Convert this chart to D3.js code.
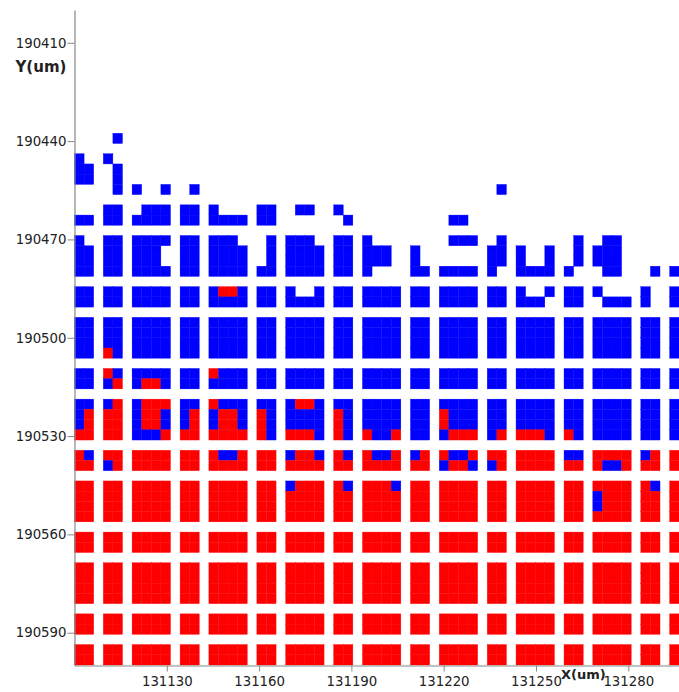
<!DOCTYPE html>
<html>
<head>
<meta charset="utf-8">
<script src="https://cdn.jsdelivr.net/npm/d3@7"></script>
<style>
html,body{margin:0;padding:0;background:#fff;overflow:hidden}
svg{display:block}
text{font-family:"DejaVu Sans",sans-serif;fill:#222}
</style>
</head>
<body>
<svg id="chart" width="679" height="692"></svg>
<script>
const xTicks = [131130,131160,131190,131220,131250,131280];
const yTicks = [190410,190440,190470,190500,190530,190560,190590];
const sitePitch = 3.12;
// left edge (um) of every site column; a space in a row string marks an unused column
const columnX = [131100.00,131103.12,131106.24,131109.36,131112.48,131115.60,131118.72,131121.84,131124.96,131128.08,
131131.20,131134.32,131137.44,131140.56,131143.68,131146.80,131149.92,131153.04,131156.16,131159.28,
131162.40,131165.52,131168.64,131171.76,131174.88,131178.00,131181.12,131184.24,131187.36,131190.48,
131193.60,131196.72,131199.84,131202.96,131206.08,131209.20,131212.32,131215.44,131218.56,131221.68,
131224.80,131227.92,131231.04,131234.16,131237.28,131240.40,131243.52,131246.64,131249.76,131252.88,
131256.00,131259.12,131262.24,131265.36,131268.48,131271.60,131274.72,131277.84,131280.96,131284.08,
131287.20,131290.32,131293.44];
// top edge (um) of every populated row
const rowY = [190437.76,190444.00,190447.12,190450.24,190453.36,190459.60,190462.72,190468.96,190472.08,190475.20,
190478.32,190484.56,190487.68,190493.92,190497.04,190500.16,190503.28,190509.52,190512.64,190518.88,
190522.00,190525.12,190528.24,190534.48,190537.60,190543.84,190546.96,190550.08,190553.20,190559.44,
190562.56,190568.80,190571.92,190575.04,190578.16,190584.40,190587.52,190593.76,190596.88];
// b = blue, r = red, . = no cell
const rowCells = [
".. .b .... .. .... .. .... .. .... .. .... .. .... .. .... .. .",
"b. b. .... .. .... .. .... .. .... .. .... .. .... .. .... .. .",
"bb .b .... .. .... .. .... .. .... .. .... .. .... .. .... .. .",
"bb .b .... .. .... .. .... .. .... .. .... .. .... .. .... .. .",
".. .b b..b .b .... .. .... .. .... .. .... .b .... .. .... .. .",
".. bb .bbb bb b... bb .bb. b. .... .. .... .. .... .. .... .. .",
"bb bb bbbb bb bbbb bb .... .b .... .. .bb. .. .... .. .... .. .",
"b. bb bbbb bb bbb. .b bbb. bb b... .. .bbb .b .... .b .bb. .. .",
"bb bb bbb. bb bbbb .b bbbb bb bbb. b. .... bb b..b .b bbb. .. .",
"bb bb bbb. bb bbbb .b bbbb bb bbb. b. .... bb b..b .b bbb. .. .",
"bb bb bbbb bb bbbb bb bbbb bb b... bb bbbb b. bbbb b. .bb. .b b",
"bb bb bbbb bb brrb bb b..b bb bbbb bb bbbb bb b..b bb b... b. b",
"bb bb bbbb bb bbbb bb bbbb bb bbbb bb bbbb bb bbb. bb .bbb b. b",
"bb bb bbbb bb bbbb bb bbbb bb bbbb bb bbbb bb bbbb bb bbbb bb b",
"bb bb bbbb bb bbbb bb bbbb bb bbbb bb bbbb bb bbbb bb bbbb bb b",
"bb bb bbbb bb bbbb bb bbbb bb bbbb bb bbbb bb bbbb bb bbbb bb b",
"bb rb bbbb bb bbbb bb bbbb bb bbbb bb bbbb bb bbbb bb bbbb bb b",
"bb rb bbbb bb rbbb bb bbbb bb bbbb bb bbbb bb bbbb bb bbbb bb b",
"bb br brrb bb bbbb bb bbbb bb bbbb bb bbbb bb bbbb bb bbbb bb b",
"bb br brrr bb rbbb bb brrb bb bbbb bb bbbb bb bbbb bb bbbb bb b",
"br rr brrb br brrb rb bbbb rb bbbb bb rbbb bb bbbb bb bbbb bb b",
"br rr brrb br brrb rb bbbb rb bbbb bb rbbb bb bbbb bb bbbb bb b",
"rr rr bbbr rr rrrr rb rrrb rb rbbr bb brrr br rrrb rb bbbb bb b",
"rb rr rrrr rr rbbr rr brrb rb rbbr br rbbr rr rrrr bb rrrr br r",
"rr br rrrr rr rrrr rr rrrr rr rrrr rr brrb br rrrr rr rbbr rr r",
"rr rr rrrr rr rrrr rr brrr rb rrrb rr rrrr rr rrrr rr rrrr rb r",
"rr rr rrrr rr rrrr rr rrrr rr rrrr rr rrrr rr rrrr rr brrr rr r",
"rr rr rrrr rr rrrr rr rrrr rr rrrr rr rrrr rr rrrr rr brrr rr r",
"rr rr rrrr rr rrrr rr rrrr rr rrrr rr rrrr rr rrrr rr rrrr rr r",
"rr rr rrrr rr rrrr rr rrrr rr rrrr rr rrrr rr rrrr rr rrrr rr r",
"rr rr rrrr rr rrrr rr rrrr rr rrrr rr rrrr rr rrrr rr rrrr rr r",
"rr rr rrrr rr rrrr rr rrrr rr rrrr rr rrrr rr rrrr rr rrrr rr r",
"rr rr rrrr rr rrrr rr rrrr rr rrrr rr rrrr rr rrrr rr rrrr rr r",
"rr rr rrrr rr rrrr rr rrrr rr rrrr rr rrrr rr rrrr rr rrrr rr r",
"rr rr rrrr rr rrrr rr rrrr rr rrrr rr rrrr rr rrrr rr rrrr rr r",
"rr rr rrrr rr rrrr rr rrrr rr rrrr rr rrrr rr rrrr rr rrrr rr r",
"rr rr rrrr rr rrrr rr rrrr rr rrrr rr rrrr rr rrrr rr rrrr rr r",
"rr rr rrrr rr rrrr rr rrrr rr rrrr rr rrrr rr rrrr rr rrrr rr r",
"rr rr rrrr rr rrrr rr rrrr rr rrrr rr rrrr rr rrrr rr rrrr rr r"
];
const fillColors = {b:"#0000ff", r:"#ff0000"};

const x = d3.scaleLinear().domain([131100,131300]).range([74.5,689.8]);
const y = d3.scaleLinear().domain([190400,190600]).range([10,665.5]);
const svg = d3.select("#chart");

const cells = rowCells.flatMap((s,i)=>Array.from(s).map((c,j)=>({c,x:columnX[j],y:rowY[i]})))
  .filter(d=>fillColors[d.c]);

svg.append("g").attr("transform","translate(0,-0.5)").selectAll("rect").data(cells).join("rect")
  .attr("x",d=>x(d.x))
  .attr("y",d=>y(d.y))
  .attr("width",d=>x(d.x+sitePitch)-x(d.x))
  .attr("height",d=>y(d.y+sitePitch)-y(d.y))
  .attr("fill",d=>fillColors[d.c])
  .attr("stroke",d=>fillColors[d.c]).attr("stroke-width",0.35);

const gx = svg.append("g").attr("transform","translate(0,665.5)")
  .call(d3.axisBottom(x).tickValues(xTicks).tickFormat(d3.format("d")).tickSize(6).tickSizeOuter(0).tickPadding(5));
const gy = svg.append("g").attr("transform","translate(74.5,0)")
  .call(d3.axisLeft(y).tickValues(yTicks).tickFormat(d3.format("d")).tickSize(7).tickSizeOuter(0).tickPadding(1));
[gx,gy].forEach(g=>{
  g.selectAll("path").attr("stroke","#888").attr("stroke-width",1.2);
  g.selectAll("line").attr("stroke","#888");
  g.selectAll("text").attr("font-size",13.3).attr("font-family",'"DejaVu Sans",sans-serif').attr("fill","#222");
});
svg.append("text").attr("x",15.5).attr("y",72).attr("font-size",15).attr("font-weight","bold").text("Y(um)");
svg.append("text").attr("x",561).attr("y",679).attr("font-size",13).attr("font-weight","bold").text("X(um)");
</script>
</body>
</html>
